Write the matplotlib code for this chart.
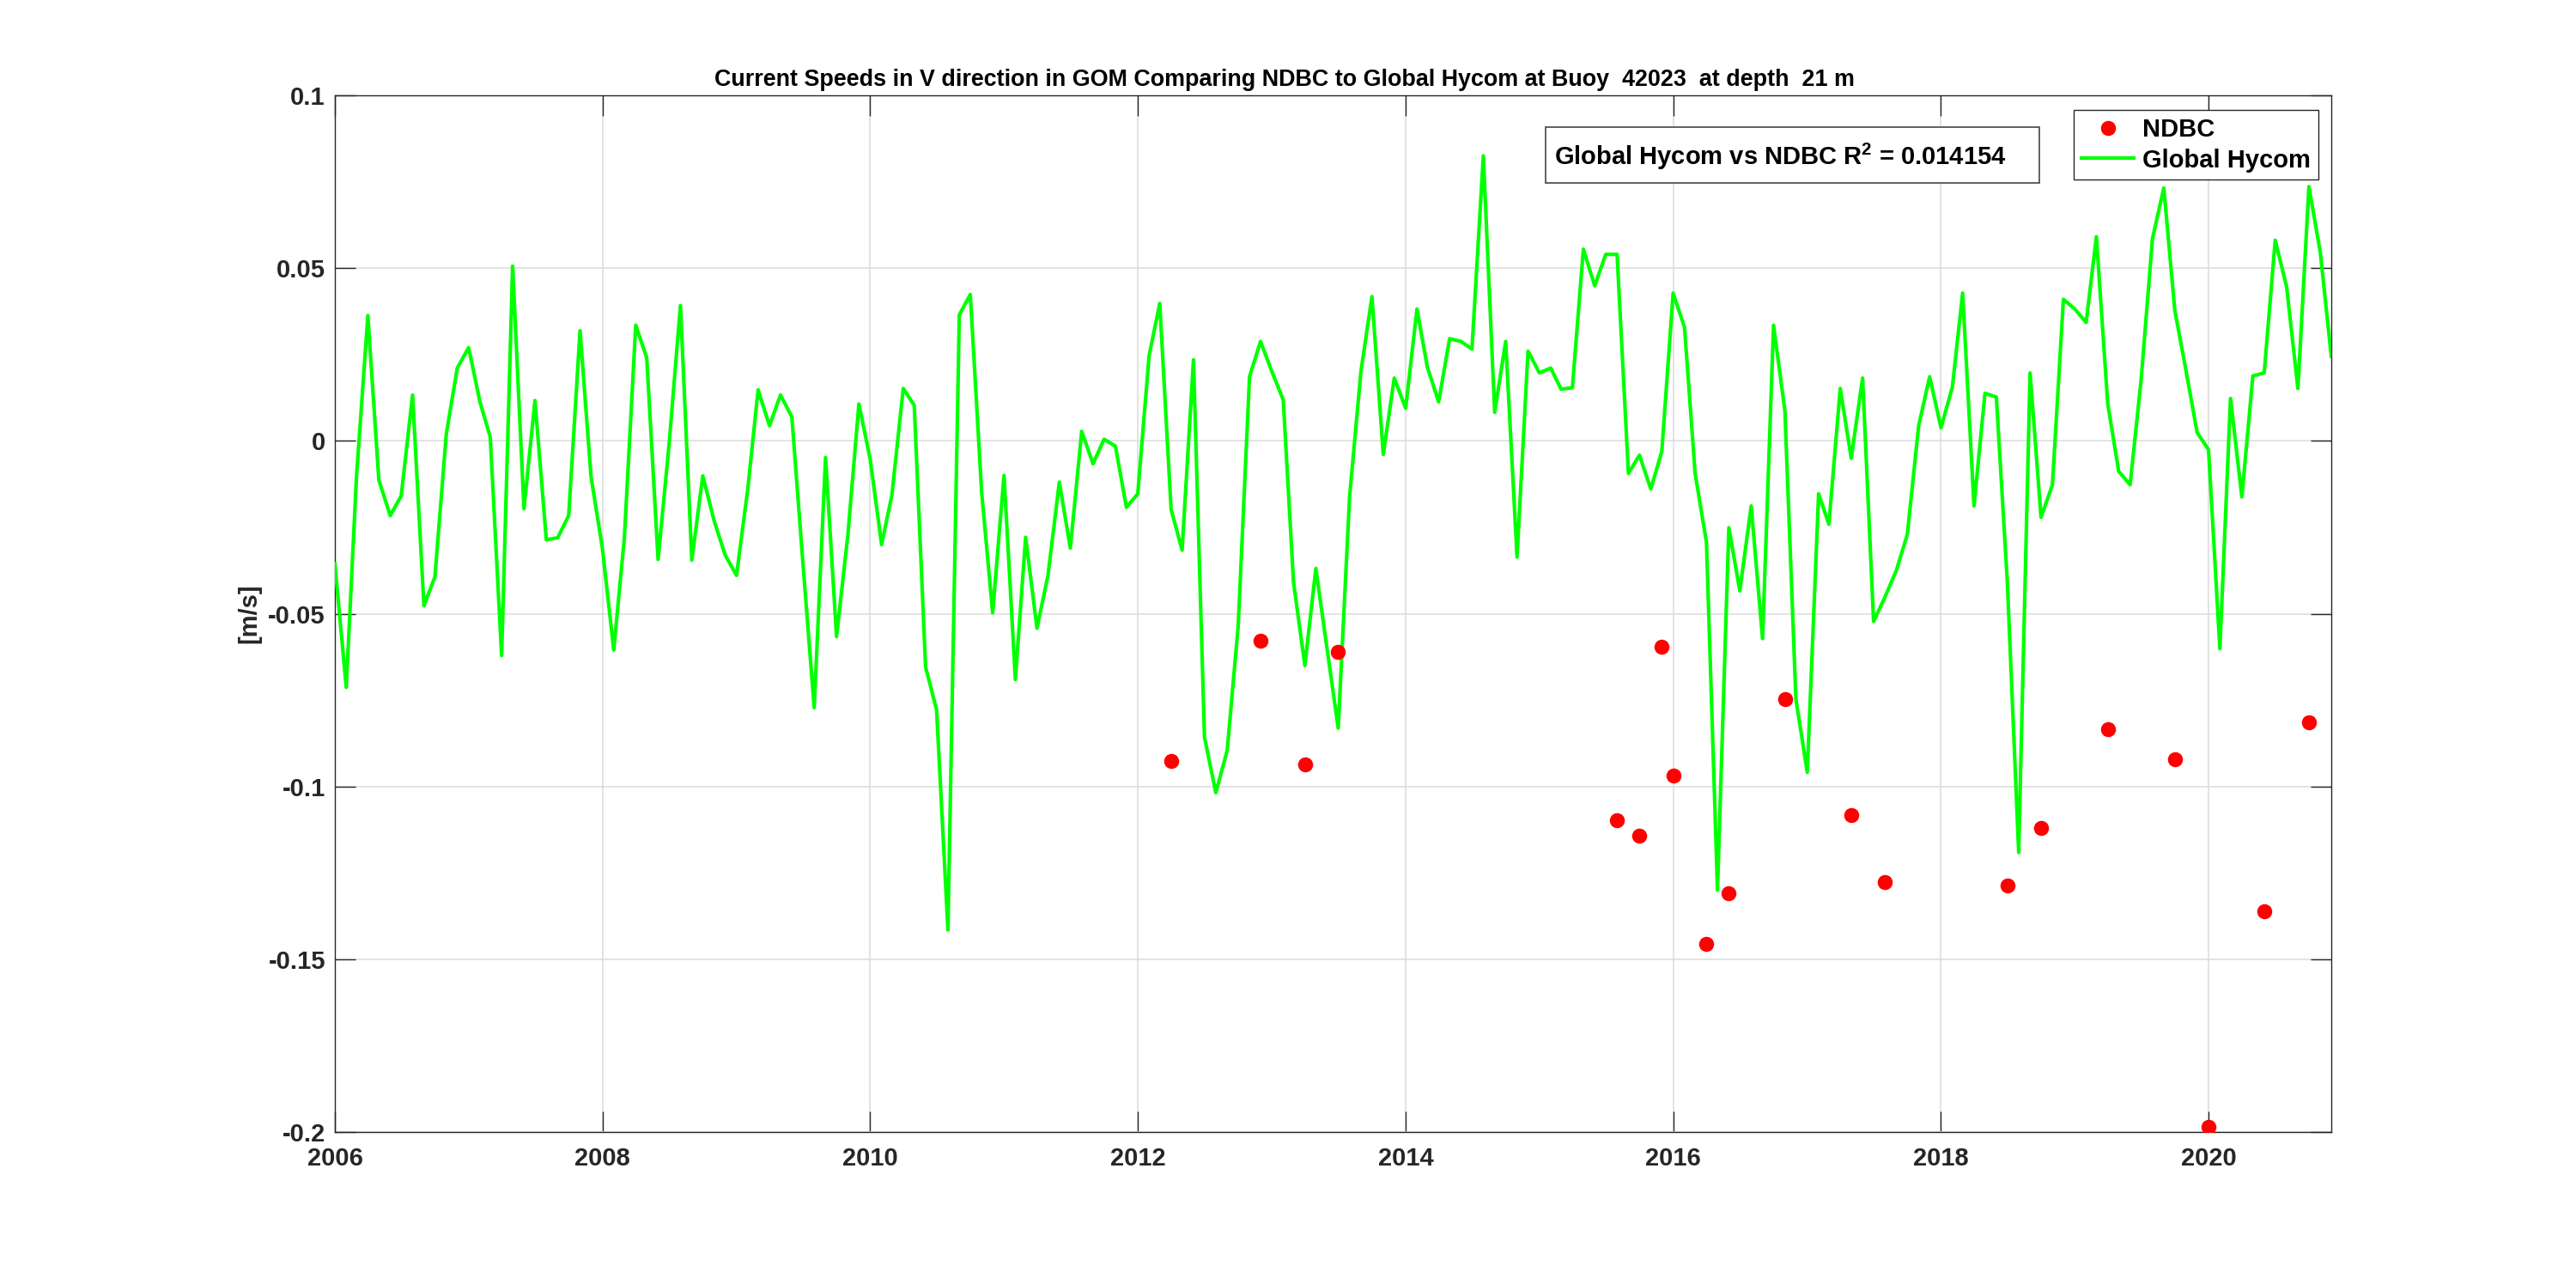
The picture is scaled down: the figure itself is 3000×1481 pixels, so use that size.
import matplotlib
matplotlib.use('Agg')
import matplotlib.pyplot as plt
import matplotlib.dates as mdates
import pandas as pd
from matplotlib.patches import Rectangle

# ---------------- data ----------------
hycom_start = '2006-01-01'
hycom_v = [
    -0.0355, -0.0713, -0.0103, 0.0363, -0.0113, -0.0216, -0.0159, 0.0133, -0.0477, -0.0393,
    0.0020, 0.0211, 0.0270, 0.0113, 0.0011, -0.0621, 0.0506, -0.0196, 0.0117, -0.0286,
    -0.0280, -0.0216, 0.0319, -0.0103, -0.0310, -0.0605, -0.0280, 0.0335, 0.0241, -0.0343,
    -0.0010, 0.0392, -0.0345, -0.0101, -0.0231, -0.0330, -0.0389, -0.0137, 0.0148, 0.0044,
    0.0133, 0.0070, -0.0350, -0.0772, -0.0048, -0.0566, -0.0271, 0.0107, -0.0054, -0.0300,
    -0.0157, 0.0152, 0.0103, -0.0654, -0.0778, -0.1415, 0.0365, 0.0424, -0.0149, -0.0497,
    -0.0100, -0.0690, -0.0279, -0.0542, -0.0389, -0.0119, -0.0310, 0.0028, -0.0066, 0.0005,
    -0.0015, -0.0192, -0.0153, 0.0247, 0.0398, -0.0198, -0.0316, 0.0235, -0.0857, -0.1018,
    -0.0896, -0.0536, 0.0186, 0.0288, 0.0201, 0.0119, -0.0408, -0.0650, -0.0369, -0.0605,
    -0.0831, -0.0162, 0.0201, 0.0418, -0.0039, 0.0182, 0.0095, 0.0382, 0.0215, 0.0113,
    0.0296, 0.0288, 0.0266, 0.0825, 0.0083, 0.0288, -0.0336, 0.0260, 0.0197, 0.0211,
    0.0150, 0.0154, 0.0555, 0.0449, 0.0540, 0.0540, -0.0094, -0.0041, -0.0139, -0.0031,
    0.0428, 0.0329, -0.0094, -0.0294, -0.1300, -0.0251, -0.0434, -0.0188, -0.0572, 0.0335,
    0.0087, -0.0747, -0.0959, -0.0153, -0.0241, 0.0152, -0.0050, 0.0182, -0.0522, -0.0452,
    -0.0375, -0.0271, 0.0044, 0.0186, 0.0038, 0.0156, 0.0428, -0.0188, 0.0138, 0.0127,
    -0.0408, -0.1191, 0.0197, -0.0221, -0.0127, 0.0410, 0.0382, 0.0343, 0.0591, 0.0107,
    -0.0088, -0.0127, 0.0176, 0.0585, 0.0732, 0.0378, 0.0201, 0.0024, -0.0025, -0.0601,
    0.0123, -0.0162, 0.0188, 0.0197, 0.0581, 0.0447, 0.0152, 0.0736, 0.0546, 0.0245,
]
ndbc_dates_str = [
    '2012-04-01', '2012-12-01', '2013-04-01', '2013-07-01', '2015-08-01', '2015-10-01',
    '2015-12-01', '2016-01-01', '2016-04-01', '2016-06-01', '2016-11-01', '2017-05-01',
    '2017-08-01', '2018-07-01', '2018-10-01', '2019-04-01', '2019-10-01', '2020-01-01',
    '2020-06-01', '2020-10-01',
]
ndbc_v = [
    -0.0926, -0.0577, -0.0935, -0.0611, -0.1097, -0.1142,
    -0.0595, -0.0969, -0.1455, -0.1309, -0.0747, -0.1083,
    -0.1276, -0.1286, -0.1120, -0.0835, -0.0920, -0.1986,
    -0.1360, -0.0815,
]
yticks = [-0.2, -0.15, -0.1, -0.05, 0, 0.05, 0.1]
ytick_labels = ['-0.2', '-0.15', '-0.1', '-0.05', '0', '0.05', '0.1']
xtick_years = [2006, 2008, 2010, 2012, 2014, 2016, 2018, 2020]
title = 'Current Speeds in V direction in GOM Comparing NDBC to Global Hycom at Buoy  42023  at depth  21 m'
r2_text = r'Global Hycom vs NDBC R$^{\mathbf{2}}$ = 0.014154'

hycom_dates = pd.date_range(hycom_start, periods=len(hycom_v), freq='MS')
ndbc_dates = pd.to_datetime(ndbc_dates_str)

# ---------------- style ----------------
plt.rcParams['font.family'] = ['Liberation Sans', 'DejaVu Sans']
plt.rcParams['font.weight'] = 'bold'
plt.rcParams['mathtext.fontset'] = 'custom'
plt.rcParams['mathtext.rm'] = 'Liberation Sans:bold'
plt.rcParams['mathtext.bf'] = 'Liberation Sans:bold'
plt.rcParams['mathtext.it'] = 'Liberation Sans:bold'

dark = '#262626'
W, H = 3000, 1481
fig = plt.figure(figsize=(W / 200, H / 200), dpi=200)
ax = fig.add_axes([0.13, 0.11, 0.775, 0.815])

h_ndbc, = ax.plot(ndbc_dates, ndbc_v, 'o', color='red', mec='red', ms=5.3,
                  label='NDBC', zorder=4)
h_hyc, = ax.plot(hycom_dates, hycom_v, '-', color=(0, 1, 0), lw=1.5,
                 label='Global Hycom', zorder=3)

ax.set_xlim(hycom_dates[0], hycom_dates[-1])
ax.set_ylim(-0.2, 0.1)
ax.set_yticks(yticks)
ax.set_yticklabels(ytick_labels)
ax.set_xticks([pd.Timestamp(f'{y}-01-01') for y in xtick_years])
ax.xaxis.set_major_formatter(mdates.DateFormatter('%Y'))

ax.grid(True, color='#dedede', lw=0.6)
ax.set_axisbelow(True)
ax.tick_params(direction='in', length=8.6, width=0.5, top=True, right=True,
               labelsize=10.5, colors=dark)
ax.tick_params(axis='x', pad=6)
ax.tick_params(axis='y', pad=4)
for s in ax.spines.values():
    s.set_color(dark)
    s.set_linewidth(0.5)

fig.text(832 / W, 1 - 100 / H, title, fontsize=9.7, fontweight='bold',
         ha='left', va='baseline', color='black')
ax.set_ylabel('[m/s]', fontsize=10.5, fontweight='bold', labelpad=3, color=dark)

# text box with R^2
x0, x1, y0, y1 = 1800, 2375, 148, 213
fig.patches.append(Rectangle((x0 / W, 1 - y1 / H), (x1 - x0) / W, (y1 - y0) / H,
                             transform=fig.transFigure, facecolor='white',
                             edgecolor='#444444', lw=0.6, zorder=5))
fig.text(1810 / W, 1 - 192 / H, r2_text, fontsize=10.5, fontweight='bold',
         ha='left', va='baseline', zorder=6)

leg = ax.legend(handles=[h_ndbc, h_hyc], loc='upper right',
                bbox_to_anchor=(2700 / W, 1 - 128 / H), bbox_transform=fig.transFigure,
                borderaxespad=0, fontsize=10.5, frameon=True, fancybox=False,
                edgecolor=dark, framealpha=1, borderpad=0.3, handlelength=2.1,
                handletextpad=0.35, labelspacing=0.27, numpoints=1)
leg.get_frame().set_linewidth(0.5)

fig.savefig('out.png', dpi=200, facecolor='white')
